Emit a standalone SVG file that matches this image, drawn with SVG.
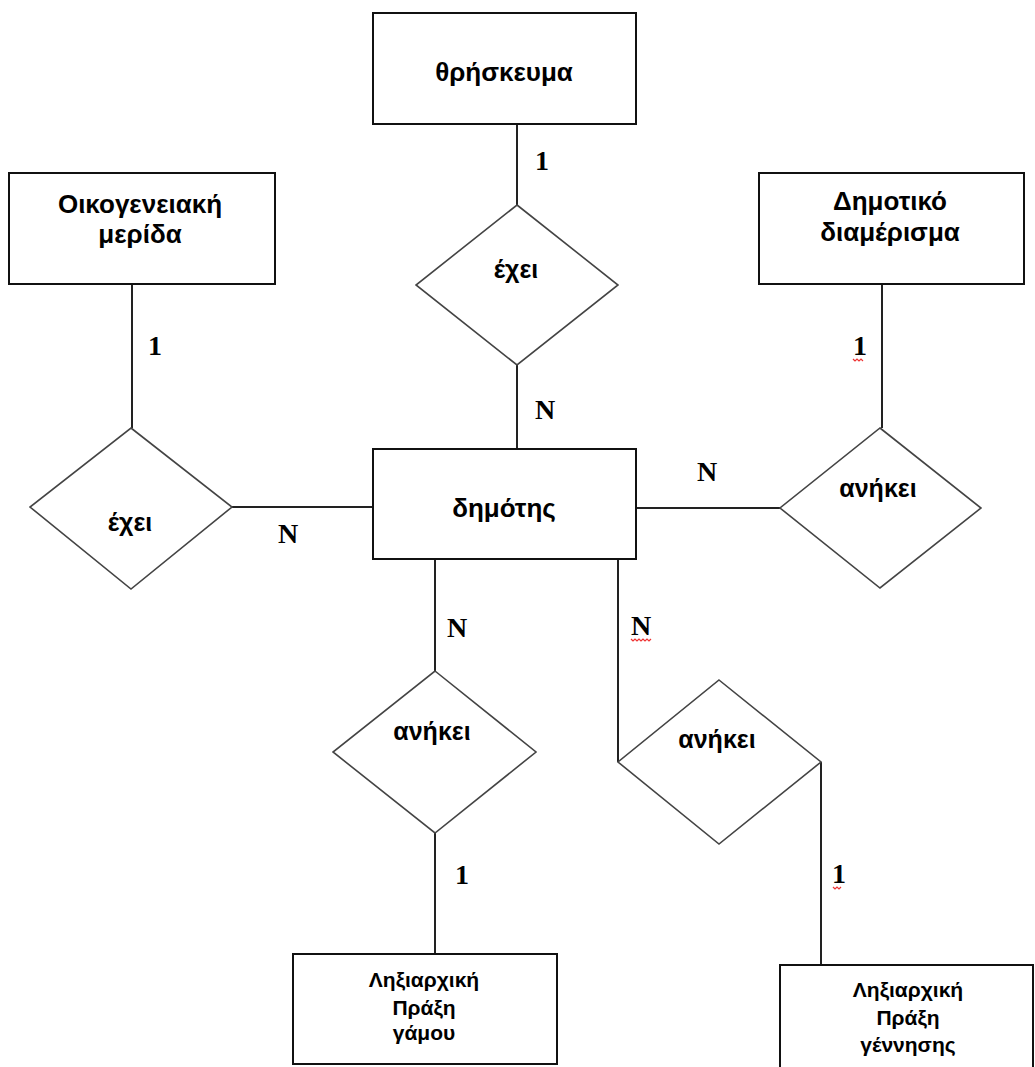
<svg xmlns="http://www.w3.org/2000/svg" width="1035" height="1067" viewBox="0 0 1035 1067">
<style>
.ent{fill:#fff;stroke:#111;stroke-width:2}
.rel{fill:#fff;stroke:#444;stroke-width:1.6}
.con{stroke:#222;stroke-width:2;fill:none}
.et{font-family:"Liberation Sans",Arial,sans-serif;font-size:26px;font-weight:bold;fill:#000;text-anchor:middle}
.rt{font-family:"Liberation Sans",Arial,sans-serif;font-size:25px;font-weight:bold;fill:#000;text-anchor:middle}
.bt{font-family:"Liberation Sans",Arial,sans-serif;font-size:21px;font-weight:bold;fill:#000;text-anchor:middle}
.card{font-family:"Liberation Serif","Times New Roman",serif;font-size:28px;font-weight:bold;fill:#000}
.sq{stroke:#e33;stroke-width:1.2;fill:none}
</style>
<rect width="1035" height="1067" fill="#fff"/>
<g id="connectors">
<line class="con" x1="517" y1="124" x2="517" y2="205"/>
<line class="con" x1="517" y1="365" x2="517" y2="449"/>
<line class="con" x1="132" y1="284" x2="132" y2="428"/>
<line class="con" x1="232" y1="507" x2="373" y2="507"/>
<line class="con" x1="882" y1="284" x2="882" y2="428"/>
<line class="con" x1="636" y1="508" x2="780" y2="508"/>
<line class="con" x1="435" y1="559" x2="435" y2="671"/>
<line class="con" x1="435" y1="833" x2="435" y2="954"/>
<line class="con" x1="618" y1="559" x2="618" y2="762"/>
<line class="con" x1="821" y1="762" x2="821" y2="965"/>
</g>
<g id="labels">
<text class="card" x="535" y="170">1</text>
<text class="card" x="148" y="355">1</text>
<text class="card" x="853" y="355">1</text>
<path class="sq" d="M853 359 l2 2 l2 -2 l2 2 l2 -2 l2 2"/>
<text class="card" x="535" y="419">N</text>
<text class="card" x="278" y="543">N</text>
<text class="card" x="697" y="481">N</text>
<text class="card" x="447" y="637">N</text>
<text class="card" x="631" y="635">N</text>
<path class="sq" d="M631 639 l2 2 l2 -2 l2 2 l2 -2 l2 2 l2 -2 l2 2 l2 -2 l2 2 l2 -2"/>
<text class="card" x="455" y="884">1</text>
<text class="card" x="832" y="883">1</text>
<path class="sq" d="M833 887 l2 2 l2 -2 l2 2 l2 -2"/>
</g>
<g id="n-thriskeuma">
<rect class="ent" x="373" y="13" width="263" height="111"/>
<text class="et" x="504" y="81">θρήσκευμα</text>
</g>
<g id="n-oikogeneiaki">
<rect class="ent" x="9" y="173" width="266" height="111"/>
<text class="et" x="140" y="213">Οικογενειακή</text>
<text class="et" x="140" y="243">μερίδα</text>
</g>
<g id="n-dimotiko">
<rect class="ent" x="759" y="173" width="265" height="111"/>
<text class="et" x="890" y="210">Δημοτικό</text>
<text class="et" x="890" y="241">διαμέρισμα</text>
</g>
<g id="n-dimotis">
<rect class="ent" x="373" y="449" width="263" height="110"/>
<text class="et" x="504" y="517">δημότης</text>
</g>
<g id="r-exei-top">
<polygon class="rel" points="517,205 618,285 517,365 416,285"/>
<text class="rt" x="516" y="278">έχει</text>
</g>
<g id="r-exei-left">
<polygon class="rel" points="131,428 232,507 131,589 30,507"/>
<text class="rt" x="130" y="531">έχει</text>
</g>
<g id="r-anikei-right">
<polygon class="rel" points="880,428 981,508 880,588 780,508"/>
<text class="rt" x="878" y="497">ανήκει</text>
</g>
<g id="r-anikei-bl">
<polygon class="rel" points="435,671 536,752 435,833 333,752"/>
<text class="rt" x="432" y="740">ανήκει</text>
</g>
<g id="r-anikei-br">
<polygon class="rel" points="719,680 821,762 719,844 618,762"/>
<text class="rt" x="717" y="748">ανήκει</text>
</g>
<g id="n-gamou">
<rect class="ent" x="293" y="954" width="264" height="110"/>
<text class="bt" x="424" y="987">Ληξιαρχική</text>
<text class="bt" x="424" y="1015">Πράξη</text>
<text class="bt" x="424" y="1040">γάμου</text>
</g>
<g id="n-gennisis">
<rect class="ent" x="780" y="965" width="253" height="120"/>
<text class="bt" x="908" y="997">Ληξιαρχική</text>
<text class="bt" x="908" y="1025">Πράξη</text>
<text class="bt" x="908" y="1052">γέννησης</text>
</g>
</svg>
